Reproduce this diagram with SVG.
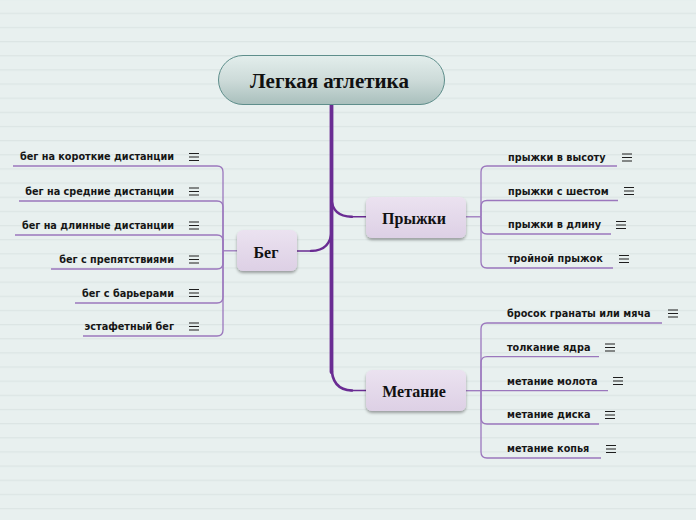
<svg xmlns="http://www.w3.org/2000/svg" width="696" height="520" viewBox="0 0 696 520">
<defs>
<pattern id="bg" x="0" y="12.7" width="696" height="14.15" patternUnits="userSpaceOnUse">
<rect x="0" y="0" width="696" height="14.15" fill="#e8f0ef"/>
<rect x="0" y="0" width="696" height="1.2" fill="#dce5e4"/>
</pattern>
<linearGradient id="rootg" x1="0" y1="0" x2="0" y2="1">
<stop offset="0" stop-color="#e3eeec"/>
<stop offset="0.5" stop-color="#cddbd9"/>
<stop offset="1" stop-color="#a9bfbc"/>
</linearGradient>
<linearGradient id="nodeg" x1="0" y1="0" x2="0" y2="1">
<stop offset="0" stop-color="#ebe2f0"/>
<stop offset="1" stop-color="#ddd0e5"/>
</linearGradient>
<filter id="sh" x="-20%" y="-20%" width="140%" height="160%">
<feGaussianBlur in="SourceAlpha" stdDeviation="1.5"/>
<feOffset dx="0" dy="2" result="b"/>
<feComponentTransfer><feFuncA type="linear" slope="0.35"/></feComponentTransfer>
<feMerge><feMergeNode/><feMergeNode in="SourceGraphic"/></feMerge>
</filter>
<g id="menu">
<path d="M-5,-3.5 H5 M-5,0 H5 M-5,3.5 H5" stroke="#1e1e1e" stroke-width="1.2" fill="none"/>
</g>
</defs>
<style>
.main{font-family:"Liberation Serif","Times New Roman",serif;font-weight:bold;fill:#111}
.sub{font-family:"DejaVu Sans","Verdana",sans-serif;font-weight:bold;font-size:9.7px;fill:#161616}
.sl{fill:none;stroke:#9b77bd;stroke-width:1.3}
.tr{fill:none;stroke:#6a2c93;stroke-linecap:round}
.node{fill:url(#nodeg);filter:url(#sh)}
</style>
<rect x="0" y="0" width="696" height="520" fill="url(#bg)"/>

<g id="connectors">
<path class="tr" d="M331.5,104 V372" stroke-width="3.8"/>
<path class="tr" d="M331.5,366 Q331.5,390 352,390.5" stroke-width="2.6"/>
<path class="tr" d="M350,390.5 H368" stroke-width="1.6"/>
<path class="tr" d="M331.5,198 Q332,216.5 352,216.8" stroke-width="2.4"/>
<path class="tr" d="M350,216.8 H368" stroke-width="1.5"/>
<path class="tr" d="M331.5,230 Q331,250.7 311,250.9" stroke-width="2.4"/>
<path class="tr" d="M313,250.9 H297" stroke-width="1.5"/>

<path class="sl" d="M237,250.8 H223"/>
<path class="sl" d="M223,250.8 V172 Q223,166 217,166 H13"/>
<path class="sl" d="M223,250.8 V207 Q223,201 217,201 H19"/>
<path class="sl" d="M223,250.8 V241 Q223,235 217,235 H15"/>
<path class="sl" d="M223,250.8 V263 Q223,269 217,269 H51"/>
<path class="sl" d="M223,250.8 V297 Q223,303 217,303 H75"/>
<path class="sl" d="M223,250.8 V330 Q223,336 217,336 H83"/>

<path class="sl" d="M466,216.8 H481"/>
<path class="sl" d="M481,216.8 V172 Q481,166 487,166 H617"/>
<path class="sl" d="M481,216.8 V206.5 Q481,200.5 487,200.5 H618"/>
<path class="sl" d="M481,216.8 V228 Q481,234 487,234 H611"/>
<path class="sl" d="M481,216.8 V262 Q481,268 487,268 H613"/>

<path class="sl" d="M466,390.7 H481"/>
<path class="sl" d="M481,390.7 V329 Q481,323 487,323 H662"/>
<path class="sl" d="M481,390.7 V362.7 Q481,356.7 487,356.7 H599"/>
<path class="sl" d="M481,390.7 H608"/>
<path class="sl" d="M481,390.7 V418 Q481,424 487,424 H599"/>
<path class="sl" d="M481,390.7 V452 Q481,458 487,458 H601"/>
</g>

<g id="root">
<rect x="218.5" y="55.5" width="226" height="49" rx="24.5" fill="url(#rootg)" stroke="#5e8e8b" stroke-width="1"/>
<text class="main" x="329.5" y="87.5" font-size="21" text-anchor="middle">Легкая атлетика</text>
</g>

<g id="beg">
<rect class="node" x="237" y="230" width="60" height="41" rx="6"/>
<text class="main" x="266" y="258" font-size="16" text-anchor="middle">Бег</text>
</g>
<g id="pryzhki">
<rect class="node" x="366" y="197" width="100" height="41" rx="6"/>
<text class="main" x="414" y="224" font-size="16" text-anchor="middle">Прыжки</text>
</g>
<g id="metanie">
<rect class="node" x="366" y="370" width="100" height="41" rx="6"/>
<text class="main" x="414" y="397" font-size="16" text-anchor="middle">Метание</text>
</g>

<g id="beg-items">
<g id="b1"><text class="sub" x="174" y="160" text-anchor="end">бег на короткие дистанции</text><use href="#menu" x="194" y="157"/></g>
<g id="b2"><text class="sub" x="174" y="195" text-anchor="end">бег на средние дистанции</text><use href="#menu" x="194" y="191.5"/></g>
<g id="b3"><text class="sub" x="174" y="229" text-anchor="end">бег на длинные дистанции</text><use href="#menu" x="194" y="225.5"/></g>
<g id="b4"><text class="sub" x="174" y="263" text-anchor="end">бег с препятствиями</text><use href="#menu" x="194" y="259.5"/></g>
<g id="b5"><text class="sub" x="174" y="297" text-anchor="end">бег с барьерами</text><use href="#menu" x="194" y="293"/></g>
<g id="b6"><text class="sub" x="174" y="330" text-anchor="end">эстафетный бег</text><use href="#menu" x="194" y="326.5"/></g>
</g>

<g id="pryzhki-items">
<g id="p1"><text class="sub" x="508" y="160.5">прыжки в высоту</text><use href="#menu" x="627" y="157.5"/></g>
<g id="p2"><text class="sub" x="508" y="194.5">прыжки с шестом</text><use href="#menu" x="629" y="191"/></g>
<g id="p3"><text class="sub" x="508" y="228">прыжки в длину</text><use href="#menu" x="621" y="225"/></g>
<g id="p4"><text class="sub" x="508" y="262">тройной прыжок</text><use href="#menu" x="624" y="259"/></g>
</g>

<g id="metanie-items">
<g id="m1"><text class="sub" x="507" y="317">бросок гранаты или мяча</text><use href="#menu" x="673" y="313.5"/></g>
<g id="m2"><text class="sub" x="507" y="350.5">толкание ядра</text><use href="#menu" x="610" y="347.5"/></g>
<g id="m3"><text class="sub" x="507" y="384.5">метание молота</text><use href="#menu" x="618" y="381"/></g>
<g id="m4"><text class="sub" x="507" y="418">метание диска</text><use href="#menu" x="610" y="415"/></g>
<g id="m5"><text class="sub" x="507" y="452">метание копья</text><use href="#menu" x="611" y="449"/></g>
</g>
</svg>
